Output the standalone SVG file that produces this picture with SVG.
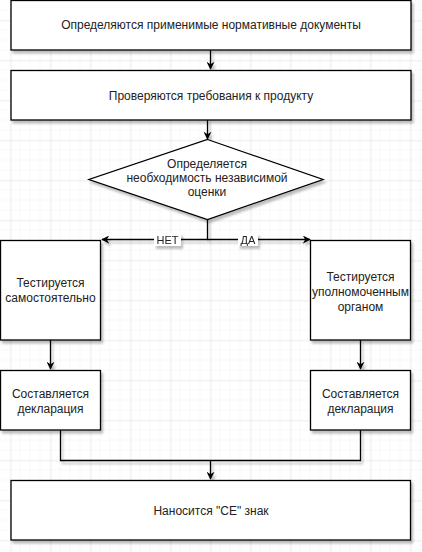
<svg xmlns="http://www.w3.org/2000/svg" width="422" height="552" viewBox="0 0 422 552">
<defs>
<pattern id="minor" width="10" height="10" patternUnits="userSpaceOnUse" x="0" y="0">
<path d="M10 0V10M0 10H10" fill="none" stroke="#f1f1f1" stroke-width="1"/>
</pattern>
<pattern id="major" width="40" height="40" patternUnits="userSpaceOnUse" x="10.5" y="20.5">
<path d="M0 0V40M0 0H40" fill="none" stroke="#e0e0e0" stroke-width="1"/>
</pattern>
<filter id="sh" x="-10%" y="-10%" width="130%" height="130%">
<feDropShadow dx="2" dy="3" stdDeviation="1.2" flood-color="#000" flood-opacity="0.25"/>
</filter>
<marker id="arr" viewBox="0 0 10 10" refX="9" refY="5" markerWidth="8" markerHeight="8" markerUnits="userSpaceOnUse" orient="auto">
<path d="M0 0L10 5L0 10L3 5Z" fill="#000"/>
</marker>
</defs>
<style>
.n{fill:#fff;stroke:#000;stroke-width:1.3;}
.t{font-family:"Liberation Sans",Arial,sans-serif;font-size:12px;fill:#222;text-anchor:middle;}
.l{font-family:"Liberation Sans",Arial,sans-serif;font-size:11px;fill:#222;text-anchor:middle;}
.c{fill:none;stroke:#000;stroke-width:1.3;}
</style>
<rect width="422" height="552" fill="#fff"/>
<g transform="translate(0.5,0.5)"><rect width="422" height="552" fill="url(#minor)"/></g>
<rect width="422" height="552" fill="url(#major)"/>

<g id="connectors" filter="url(#sh)">
<path class="c" d="M210.5 50V69" marker-end="url(#arr)"/>
<path class="c" d="M207.5 120V139" marker-end="url(#arr)"/>
<path class="c" d="M207.5 219V239.5H102" marker-end="url(#arr)"/>
<path class="c" d="M207.5 239.5H310" marker-end="url(#arr)"/>
<path class="c" d="M50.5 340V369" marker-end="url(#arr)"/>
<path class="c" d="M360.5 340V369" marker-end="url(#arr)"/>
<path class="c" d="M60.5 430V460.5H360.5V430"/>
<path class="c" d="M210.5 460.5V479" marker-end="url(#arr)"/>
<rect x="154" y="233" width="27" height="13" fill="#fff"/>
<text class="l" x="167.5" y="243.5">НЕТ</text>
<rect x="238" y="233" width="20" height="13" fill="#fff"/>
<text class="l" x="248" y="243.5">ДА</text>
</g>

<g id="n1"><rect class="n" x="11" y="0.5" width="400" height="49.5" filter="url(#sh)"/>
<text class="t" x="211" y="29">Определяются применимые нормативные документы</text></g>

<g id="n2"><rect class="n" x="11" y="70.5" width="400" height="49.5" filter="url(#sh)"/>
<text class="t" x="211" y="100">Проверяются требования к продукту</text></g>

<g id="n3"><path class="n" d="M207.5 139.5L323 179.5L207.5 219.5L89 179.5Z" filter="url(#sh)"/>
<text class="t" x="207" y="168">Определяется</text>
<text class="t" x="207" y="182">необходимость независимой</text>
<text class="t" x="207" y="196">оценки</text></g>

<g id="n4"><rect class="n" x="0.5" y="240.5" width="100" height="99.5" filter="url(#sh)"/>
<text class="t" x="50.5" y="287">Тестируется</text>
<text class="t" x="50.5" y="302">самостоятельно</text></g>

<g id="n5"><rect class="n" x="310.5" y="240.5" width="100" height="99.5" filter="url(#sh)"/>
<text class="t" x="360.5" y="281">Тестируется</text>
<text class="t" x="360.5" y="296">уполномоченным</text>
<text class="t" x="360.5" y="311">органом</text></g>

<g id="n6"><rect class="n" x="0.5" y="370.5" width="100" height="59.5" filter="url(#sh)"/>
<text class="t" x="50.5" y="398">Составляется</text>
<text class="t" x="50.5" y="413">декларация</text></g>

<g id="n7"><rect class="n" x="310.5" y="370.5" width="100" height="59.5" filter="url(#sh)"/>
<text class="t" x="360.5" y="398">Составляется</text>
<text class="t" x="360.5" y="413">декларация</text></g>

<g id="n8"><rect class="n" x="11" y="480.5" width="399.5" height="59.5" filter="url(#sh)"/>
<text class="t" x="211" y="515">Наносится "CE" знак</text></g>
</svg>
